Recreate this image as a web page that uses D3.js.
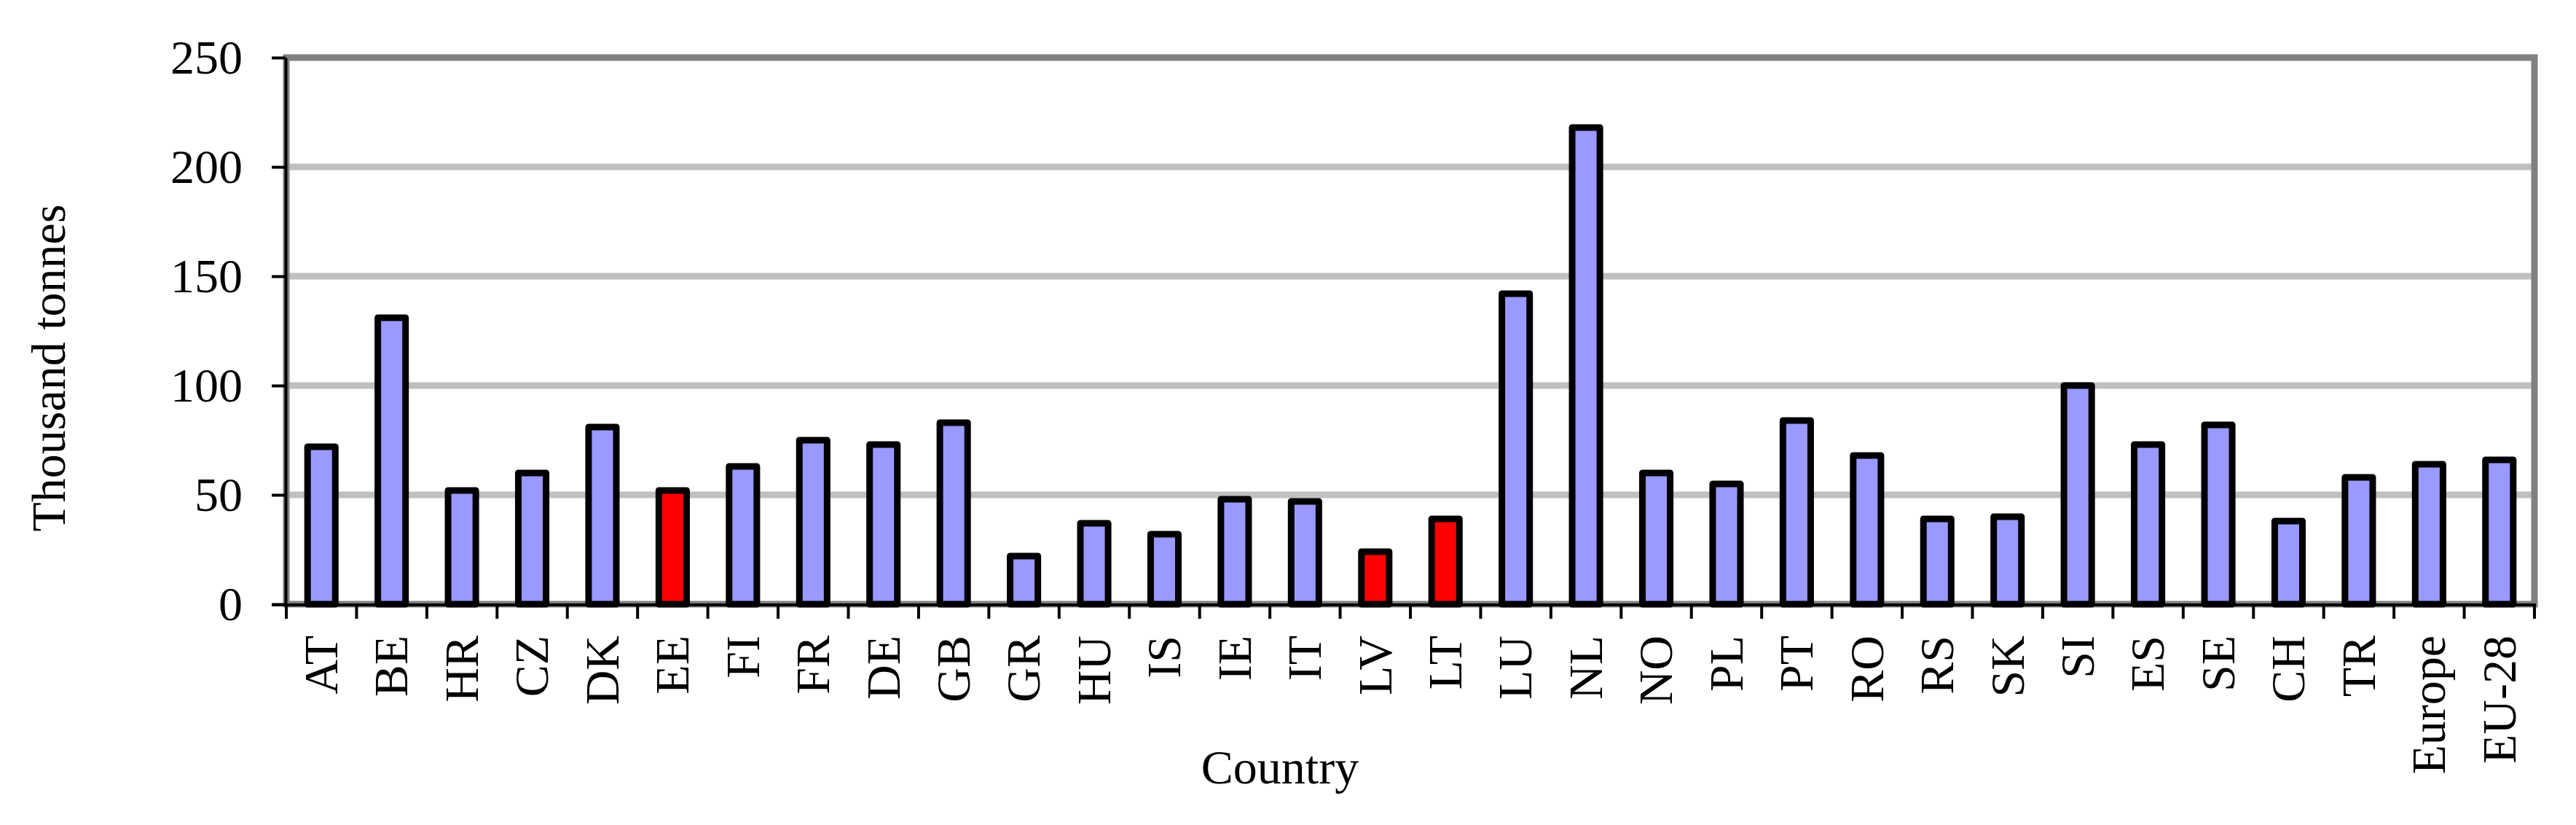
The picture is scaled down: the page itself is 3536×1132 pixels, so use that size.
<!DOCTYPE html>
<html>
<head>
<meta charset="utf-8">
<script src="https://cdn.jsdelivr.net/npm/d3@7"></script>
<style>
  html, body { margin: 0; padding: 0; background: #ffffff; }
  svg { display: block; }
  text { font-family: "Liberation Serif", "Times New Roman", serif; fill: #000; }
</style>
</head>
<body>
<svg id="chart" width="3536" height="1132"></svg>
<script>
const categories = ["AT","BE","HR","CZ","DK","EE","FI","FR","DE","GB","GR","HU","IS","IE","IT","LV","LT","LU","NL","NO","PL","PT","RO","RS","SK","SI","ES","SE","CH","TR","Europe","EU-28"];
const values = [72, 131, 52, 60, 81, 52, 63, 75, 73, 83, 22, 37, 32, 48, 47, 24, 39, 142, 218, 60, 55, 84, 68, 39, 40, 100, 73, 82, 38, 58, 64, 66];
const highlighted = ["EE", "LV", "LT"];
const yTicks = [0, 50, 100, 150, 200, 250];
const yTitle = "Thousand tonnes";
const xTitle = "Country";

(function () {
const svg = d3.select("#chart");
const pLeft = 393, pRight = 3479, pTop = 79, pBottom = 829;

const y = d3.scaleLinear().domain([0, 250]).range([pBottom, pTop]);
const xSlot = d3.scaleBand().domain(categories).range([pLeft, pRight]).padding(0);
const x = d3.scaleBand().domain(categories).range([pLeft, pRight]).paddingInner(0.605).paddingOuter(0.3025);

// gridlines
svg.append("g").selectAll("line").data(yTicks.filter(t => t > 0 && t < 250)).join("line")
  .attr("x1", pLeft).attr("x2", pRight)
  .attr("y1", d => y(d)).attr("y2", d => y(d))
  .attr("stroke", "#c0c0c0").attr("stroke-width", 9);

// plot frame
svg.append("rect")
  .attr("x", pLeft).attr("y", y(250))
  .attr("width", pRight - pLeft).attr("height", y(0) - y(250))
  .attr("fill", "none").attr("stroke", "#808080").attr("stroke-width", 9);

// bars
svg.append("g").selectAll("rect").data(categories).join("rect")
  .attr("x", d => x(d))
  .attr("width", x.bandwidth())
  .attr("y", (d, i) => y(values[i]))
  .attr("height", (d, i) => y(0) - y(values[i]))
  .attr("fill", d => highlighted.includes(d) ? "#ff0000" : "#9999ff")
  .attr("stroke", "#000").attr("stroke-width", 9).attr("stroke-linejoin", "round");

// y axis
const yAxis = svg.append("g").attr("transform", `translate(${pLeft - 1},0)`)
  .call(d3.axisLeft(y).tickValues(yTicks).tickSize(19).tickPadding(40).tickSizeOuter(0));
yAxis.select(".domain").attr("stroke", "#000").attr("stroke-width", 4);
yAxis.selectAll(".tick line").attr("stroke", "#000").attr("stroke-width", 4);
yAxis.selectAll(".tick text").style("font-family", '"Liberation Serif", "Times New Roman", serif').style("font-size", "66px").attr("fill", "#000");

// x axis line
svg.append("line")
  .attr("x1", pLeft - 20).attr("x2", pRight + 2)
  .attr("y1", pBottom + 1).attr("y2", pBottom + 1)
  .attr("stroke", "#000").attr("stroke-width", 4);

// x ticks at category boundaries
const boundaries = categories.map(d => xSlot(d)).concat([pRight]);
svg.append("g").selectAll("line").data(boundaries).join("line")
  .attr("x1", d => d).attr("x2", d => d)
  .attr("y1", pBottom + 1).attr("y2", pBottom + 20)
  .attr("stroke", "#000").attr("stroke-width", 4);

// x labels
svg.append("g").selectAll("text").data(categories).join("text")
  .attr("transform", d => `translate(${xSlot(d) + xSlot.bandwidth() / 2},872) rotate(-90)`)
  .attr("text-anchor", "end")
  .attr("dy", "0.33em")
  .style("font-size", "66px")
  .text(d => d);

// axis titles
svg.append("text")
  .attr("transform", "translate(67,505) rotate(-90)")
  .attr("text-anchor", "middle").attr("dy", "0.33em")
  .style("font-size", "66px")
  .text(yTitle);

svg.append("text")
  .attr("x", 1757).attr("y", 1075)
  .attr("text-anchor", "middle")
  .style("font-size", "66px")
  .text(xTitle);
})();
</script>
</body>
</html>
